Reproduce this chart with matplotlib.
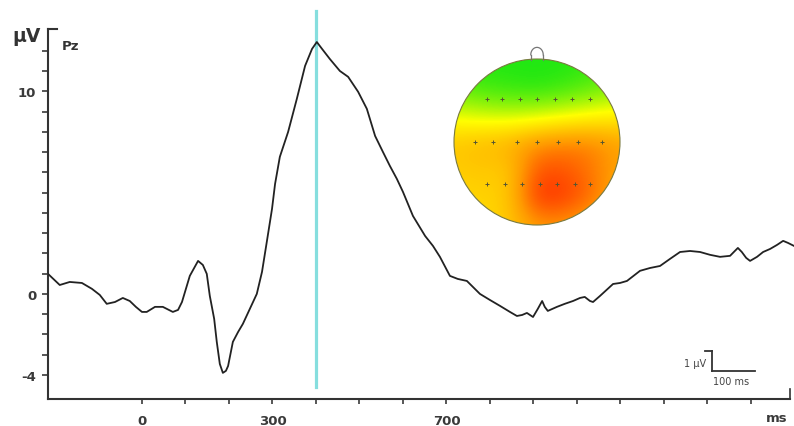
import numpy as np
import matplotlib
matplotlib.use("Agg")
import matplotlib.pyplot as plt
from matplotlib.colors import LinearSegmentedColormap
from matplotlib.patches import Circle
from matplotlib.lines import Line2D

plt.rcParams['font.family'] = ['DejaVu Sans']

# ---------------- data ----------------
# ERP waveform at Pz (time in ms, amplitude in microvolts)
time_ms = [-216, -189, -166, -138, -115, -97, -81, -62, -44, -28, -14, 0, 11, 30,
           48, 71, 83, 92, 110, 129, 140, 149, 156, 166, 172, 179, 186, 193,
           198, 209, 221, 232, 248, 264, 276, 287, 299, 306, 317, 336, 356, 375,
           391, 402, 414, 432, 455, 474, 497, 517, 536, 554, 570, 586, 600, 623,
           651, 669, 685, 708, 726, 747, 777, 800, 823, 846, 862, 874, 885, 899,
           910, 920, 926, 933, 954, 972, 991, 1007, 1018, 1030, 1037, 1053,
           1083, 1099, 1115, 1133, 1145, 1168, 1191, 1214, 1237, 1260, 1283,
           1306, 1329, 1352, 1363, 1370, 1379, 1389, 1398, 1414, 1428, 1444,
           1460, 1474, 1485, 1499]
amp_uv = [0.99, 0.44, 0.59, 0.54, 0.25, -0.05, -0.49, -0.40, -0.20, -0.35, -0.64,
          -0.89, -0.89, -0.64, -0.64, -0.89, -0.79, -0.40, 0.89, 1.63, 1.43,
          0.99, -0.10, -1.23, -2.37, -3.46, -3.90, -3.80, -3.56, -2.37, -1.88,
          -1.48, -0.74, 0.00, 1.09, 2.57, 4.20, 5.43, 6.77, 8.00, 9.63, 11.26,
          12.10, 12.44, 12.10, 11.60, 11.01, 10.72, 9.98, 9.14, 7.80, 7.01,
          6.32, 5.68, 5.04, 3.85, 2.86, 2.37, 1.83, 0.89, 0.74, 0.64, 0.00,
          -0.30, -0.59, -0.89, -1.09, -1.04, -0.94, -1.14, -0.74, -0.35, -0.64,
          -0.84, -0.64, -0.49, -0.35, -0.20, -0.15, -0.35, -0.40, -0.10, 0.49,
          0.54, 0.64, 0.94, 1.14, 1.28, 1.38, 1.73, 2.07, 2.12, 2.07, 1.93,
          1.83, 1.88, 2.12, 2.27, 2.07, 1.78, 1.63, 1.83, 2.07, 2.22, 2.42,
          2.62, 2.52, 2.37]

peak_latency_ms = 400

y_ticks = list(range(-4, 13))
y_tick_labels = {10: "10", 0: "0", -4: "-4"}
x_ticks = list(range(0, 1500, 100))
x_tick_labels = {0: "0", 300: "300", 700: "700"}

scale_bar_uv = 1
scale_bar_ms = 100

# topographic map at the peak: values on a 7x7 grid (0 = green ... 1 = red)
topo_values = [
    [0.00, 0.00, 0.00, 0.00, 0.00, 0.02, 0.05],
    [0.08, 0.04, 0.02, 0.00, 0.03, 0.08, 0.14],
    [0.28, 0.24, 0.22, 0.24, 0.28, 0.32, 0.36],
    [0.52, 0.56, 0.60, 0.68, 0.72, 0.72, 0.64],
    [0.50, 0.52, 0.50, 0.85, 0.85, 0.75, 0.62],
    [0.46, 0.48, 0.50, 0.95, 0.92, 0.78, 0.58],
    [0.44, 0.44, 0.52, 0.66, 0.66, 0.58, 0.50],
]
elec_x = [-0.60, -0.42, -0.20, 0.00, 0.22, 0.42, 0.64,
          -0.75, -0.53, -0.24, 0.00, 0.25, 0.49, 0.78,
          -0.60, -0.39, -0.18, 0.04, 0.24, 0.46, 0.64]
elec_y = [0.52] * 7 + [0.0] * 7 + [-0.50] * 7

# ---------------- figure ----------------
W, H = 794, 427
fig = plt.figure(figsize=(W / 100, H / 100), dpi=100)
ax = fig.add_axes([48 / W, 27 / H, (W - 48) / W, 390 / H])

ax.plot(time_ms, amp_uv, color='#222222', lw=1.3, zorder=3)
ax.axvline(peak_latency_ms, ymin=12 / 390, ymax=(400 - 12) / 390,
           color='#86dede', lw=2.3, zorder=2)

ax.set_xlim(-216, 1499)
ax.set_ylim(-5.19, 14.07)

for s in ['top', 'right']:
    ax.spines[s].set_visible(False)
ax.spines['left'].set_bounds(-5.19, 13.09)
ax.spines['bottom'].set_bounds(-216, 1490)
for s in ['left', 'bottom']:
    ax.spines[s].set_linewidth(1.5)
    ax.spines[s].set_color('#333333')

ax.set_yticks(y_ticks)
ax.set_yticklabels([y_tick_labels.get(v, "") for v in y_ticks])
ax.set_xticks(x_ticks)
ax.set_xticklabels([x_tick_labels.get(v, "") for v in x_ticks])
ax.tick_params(axis='y', length=4.5, width=1.2, pad=4, labelsize=9.5,
               colors='#3a3a3a')
ax.tick_params(axis='x', length=3.5, width=1.2, pad=7, labelsize=9.5,
               colors='#3a3a3a')
for lab in ax.get_xticklabels() + ax.get_yticklabels():
    lab.set_fontweight('bold')

# hook at top of y-axis
ax.add_line(Line2D([-216, -195], [13.09, 13.09], color='#333333', lw=1.5,
                   clip_on=False))
# small upward tick at right end of x-axis
ax.add_line(Line2D([1490, 1490], [-5.19, -4.7], color='#333333', lw=1.2,
                   clip_on=False))

fig.text(27 / W, 1 - 42 / H, "µV", fontsize=13.5, fontweight='bold',
         color='#333333', va='baseline', ha='center')
fig.text(62 / W, 1 - 47 / H, "Pz", fontsize=9.5, fontweight='bold',
         color='#333333', va='center', ha='left')
fig.text(777 / W, 1 - 419 / H, "ms", fontsize=9.5, fontweight='bold',
         color='#3a3a3a', va='center', ha='center')

# scale bar
sb_x, sb_y = 1310, -3.80
ax.plot([sb_x, sb_x], [sb_y, sb_y + scale_bar_uv], color='#333333', lw=1.3)
ax.plot([sb_x - 16, sb_x], [sb_y + scale_bar_uv] * 2, color='#333333', lw=1.3)
ax.plot([sb_x, sb_x + scale_bar_ms], [sb_y, sb_y], color='#333333', lw=1.3)
ax.text(sb_x - 12, sb_y + 0.4, f"{scale_bar_uv} µV", fontsize=7,
        color='#444444', ha='right', va='center')
ax.text(sb_x + scale_bar_ms / 2 - 5, sb_y - 0.5, f"{scale_bar_ms} ms",
        fontsize=7, color='#444444', ha='center', va='center')

# ---------------- topographic map ----------------
cmap = LinearSegmentedColormap.from_list(
    'gyr', ['#22e812', '#ffff00', '#ff9a00', '#ff1800'])
size = 200
tax = fig.add_axes([(537 - size / 2) / W, (H - 143 - size / 2) / H,
                    size / W, size / H])
lim = (size / 2) / 83
tax.set_xlim(-lim, lim)
tax.set_ylim(-lim, lim)
tax.axis('off')
step = 1 / 3
ext = (-1 - step / 2, 1 + step / 2, -1 - step / 2, 1 + step / 2)
im = tax.imshow(np.array(topo_values), cmap=cmap, vmin=0, vmax=1,
                extent=ext, origin='upper', interpolation='bicubic', zorder=1)
clip = Circle((0, 0), 1.0, transform=tax.transData)
im.set_clip_path(clip)
tax.add_patch(Circle((0, 0), 1.0, fill=False, ec='#7a7a40', lw=0.8, zorder=3))
th = np.linspace(0, np.pi, 60)
tax.plot(0.075 * np.cos(th), 1.0 + 0.09 * np.sin(th) + 0.05, color='#777777',
         lw=0.9)
tax.plot([0.075, 0.075], [0.99, 1.05], color='#777777', lw=0.9)
tax.plot([-0.075, -0.075], [0.99, 1.05], color='#777777', lw=0.9)
tax.plot(elec_x, elec_y, linestyle='none', marker='+', ms=3, mew=0.7,
         color='#555533', zorder=4)

fig.savefig("out.png", dpi=100)
